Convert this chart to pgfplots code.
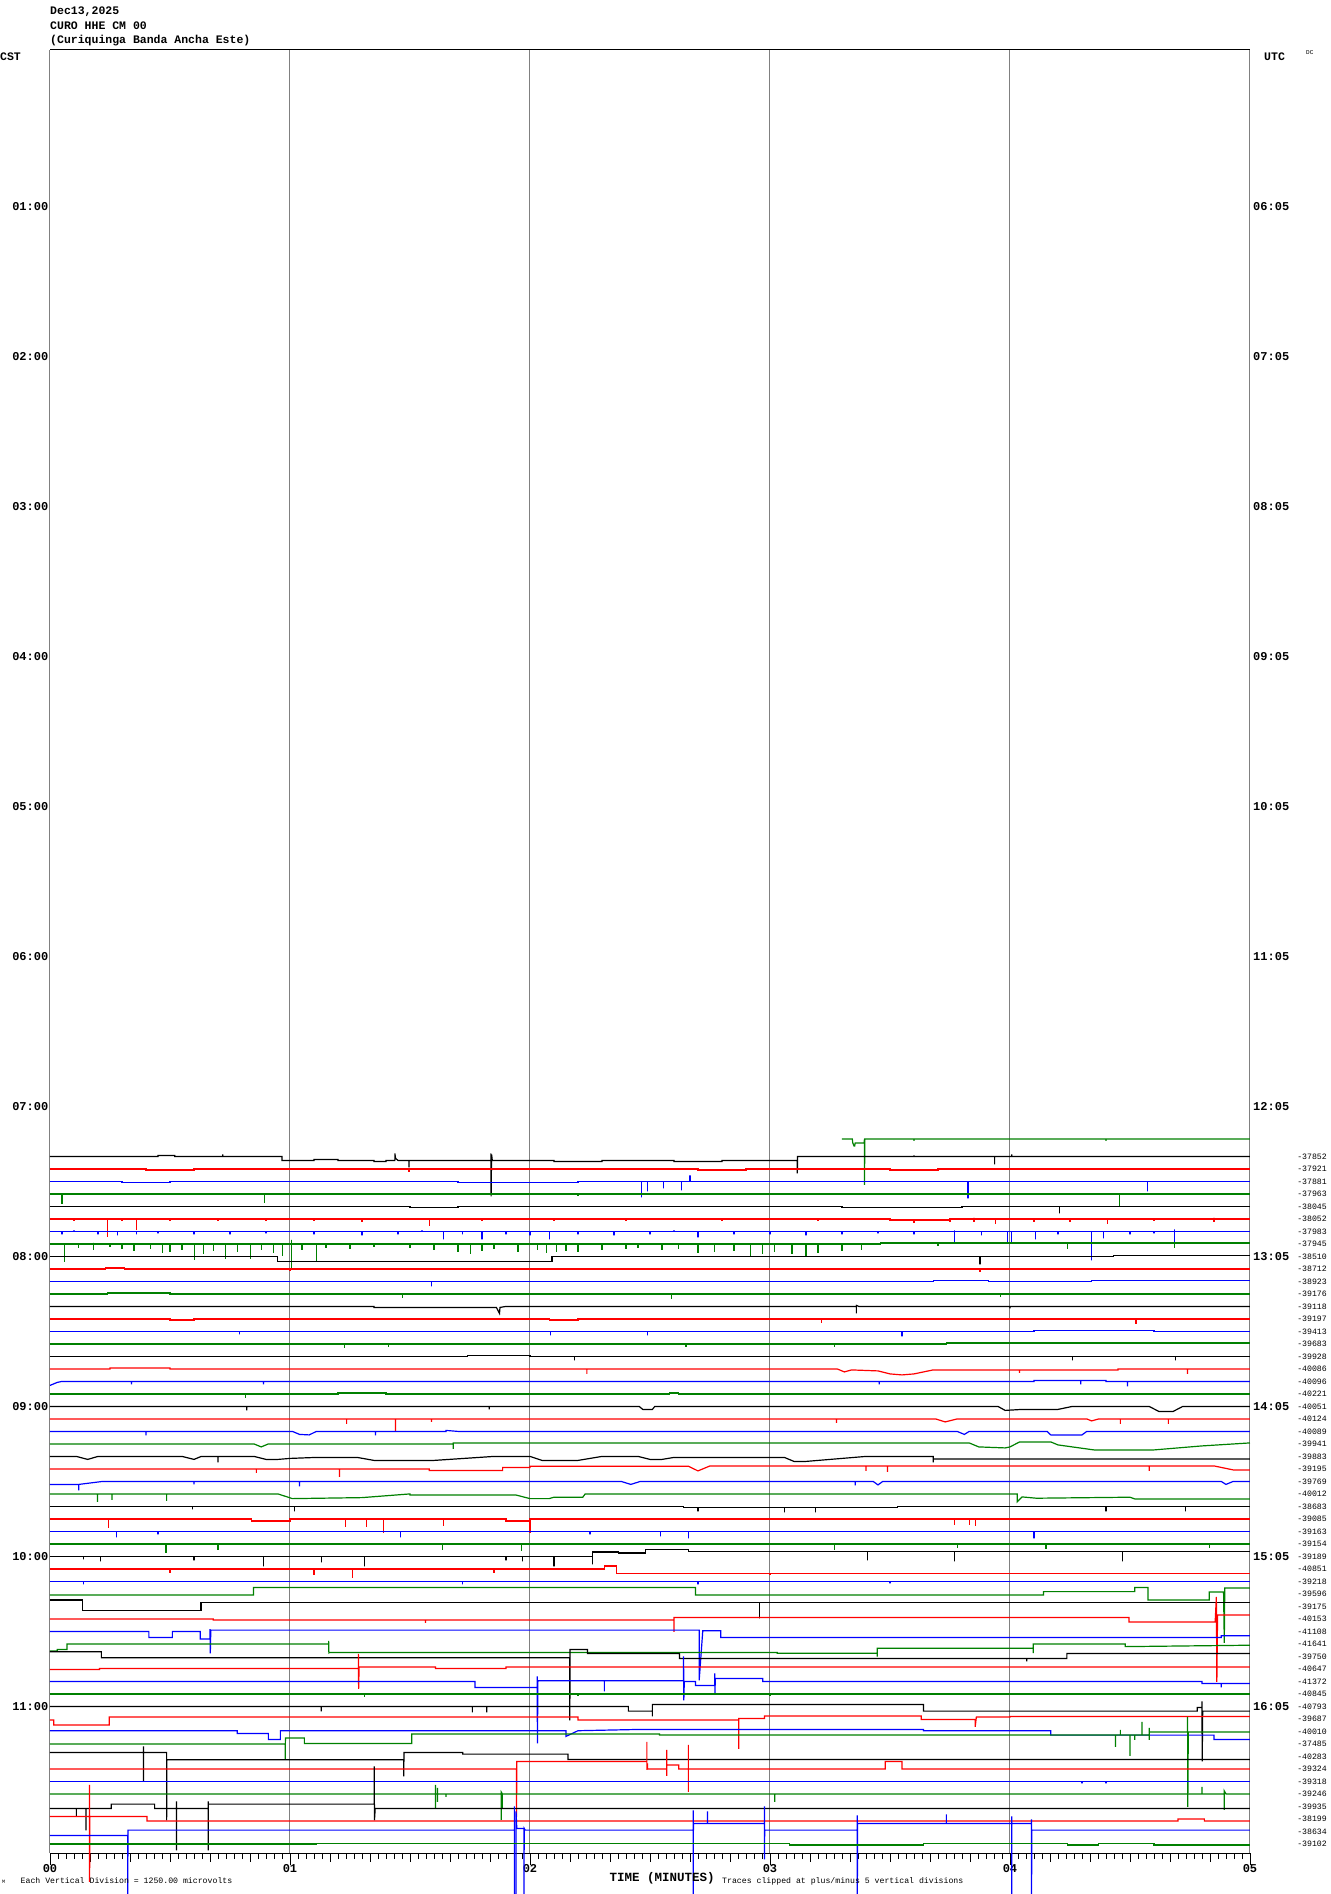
\documentclass[border=0pt]{standalone}
\usepackage{fontspec}
\setmonofont{Liberation Mono}
\usepackage{pgfplots}
\pgfplotsset{compat=1.18}
\definecolor{tg}{RGB}{0,128,0}
\definecolor{trd}{RGB}{255,0,0}
\definecolor{tbl}{RGB}{0,0,255}
\definecolor{gl}{RGB}{128,128,128}
\newcommand{\trc}[3]{\addplot[#1,line width=1.2pt] table[row sep=\\,header=false,x index=0,y expr={\thisrowno{1}+56.4+12.5*#2}]{#3};}
\newcommand{\hdr}{\ttfamily\bfseries\fontsize{11.5}{13}\selectfont}
\newcommand{\hr}{\ttfamily\bfseries\fontsize{12}{13}\selectfont}
\newcommand{\sm}{\ttfamily\fontsize{8.2}{9}\selectfont}
\begin{document}
\begin{tikzpicture}
\useasboundingbox (0,0) rectangle (1330pt,1894pt);
\begin{axis}[at={(50pt,41pt)},anchor=south west,width=1200pt,height=1803pt,scale only axis,
 xmin=0,xmax=5,ymin=50,ymax=1853,y dir=reverse,clip=false,
 axis x line=bottom, axis y line=none, axis line style={-,black,line width=1pt},
 xtick={0,1,2,3,4,5}, xticklabels={00,01,02,03,04,05},
 minor x tick num=29, tick align=outside, major tick length=12pt, minor tick length=6pt,
 tick style={black,line width=0.8pt},
 extra x ticks={0.16667,0.33333,0.5,0.66667,0.83333,1.16667,1.33333,1.5,1.66667,1.83333,2.16667,2.33333,2.5,2.66667,2.83333,3.16667,3.33333,3.5,3.66667,3.83333,4.16667,4.33333,4.5,4.66667,4.83333},
 extra x tick labels={}, extra x tick style={major tick length=9pt, grid=none},
 xmajorgrids, major grid style={gl,line width=1pt},
 xticklabel style={font=\hr, inner sep=0pt, yshift=1pt},
 ytick=\empty]
\trc{tg}{87}{3.300 -5 \\ 3.343 -5 \\ 3.345 -1 \\ 3.35 2 \\ 3.353 2 \\ 3.355 -1 \\ 3.392 -1 \\ 3.394 -5 \\ 3.394 41 \\ 3.395 -5 \\ 3.6 -5 \\ 3.6 -3 \\ 3.6 -5 \\ 4.4 -5 \\ 4.4 -3 \\ 4.4 -5 \\ 5 -5 \\}
\trc{black}{88}{0 0 \\ 0.45 0 \\ 0.45 -1 \\ 0.52 -1 \\ 0.52 0 \\ 0.72 0 \\ 0.72 -2 \\ 0.72 0 \\ 0.967 0 \\ 0.967 4 \\ 1.1 4 \\ 1.1 3 \\ 1.2 3 \\ 1.2 4 \\ 1.35 4 \\ 1.35 5 \\ 1.40 5 \\ 1.40 4 \\ 1.437 4 \\ 1.437 -3 \\ 1.44 2 \\ 1.45 4 \\ 1.496 4 \\ 1.496 11 \\ 1.496 4 \\ 1.837 4 \\ 1.837 -3 \\ 1.838 40 \\ 1.84 -2 \\ 1.843 4 \\ 2.1 4 \\ 2.1 5 \\ 2.3 5 \\ 2.3 4 \\ 2.6 4 \\ 2.6 5 \\ 2.8 5 \\ 2.8 4 \\ 3.114 4 \\ 3.114 17 \\ 3.115 0 \\ 3.6 0 \\ 3.6 -1 \\ 3.6 0 \\ 3.936 0 \\ 3.936 8 \\ 3.936 0 \\ 4.007 0 \\ 4.007 -2 \\ 4.007 0 \\ 5 0 \\}
\trc{trd}{89}{0 0 \\ 0.4 0 \\ 0.4 1 \\ 0.6 1 \\ 0.6 0 \\ 1.496 0 \\ 1.496 3 \\ 1.496 0 \\ 2.7 0 \\ 2.7 1 \\ 2.9 1 \\ 2.9 0 \\ 3.5 0 \\ 3.5 1 \\ 3.7 1 \\ 3.7 0 \\ 5 0 \\}
\trc{tbl}{90}{0 0 \\ 0.3 0 \\ 0.3 1 \\ 0.5 1 \\ 0.5 0 \\ 1.7 0 \\ 1.7 1 \\ 2.2 1 \\ 2.2 0 \\ 2.466 0 \\ 2.466 16 \\ 2.466 0 \\ 2.49 0 \\ 2.49 10 \\ 2.49 0 \\ 2.557 0 \\ 2.557 7 \\ 2.557 0 \\ 2.631 0 \\ 2.631 9 \\ 2.631 0 \\ 2.667 0 \\ 2.667 -6 \\ 2.667 0 \\ 3.825 0 \\ 3.825 17 \\ 3.825 0 \\ 4.572 0 \\ 4.572 10 \\ 4.572 0 \\ 5 0 \\}
\trc{tg}{91}{0 0 \\ 0.05 0 \\ 0.05 10 \\ 0.05 0 \\ 0.893 0 \\ 0.893 9 \\ 0.893 0 \\ 2.2 0 \\ 2.2 2 \\ 2.2 0 \\ 4.455 0 \\ 4.455 12 \\ 4.455 0 \\ 5 0 \\}
\trc{black}{92}{0 0 \\ 1.5 0 \\ 1.5 1 \\ 1.7 1 \\ 1.7 0 \\ 3.3 0 \\ 3.3 1 \\ 3.8 1 \\ 3.8 0 \\ 4.205 0 \\ 4.205 7 \\ 4.205 0 \\ 5 0 \\}
\trc{trd}{93}{0 0 \\ 0.1 0 \\ 0.1 2 \\ 0.1 0 \\ 0.239 0 \\ 0.239 18 \\ 0.239 0 \\ 0.3 0 \\ 0.3 2 \\ 0.3 0 \\ 0.362 0 \\ 0.362 11 \\ 0.362 0 \\ 0.5 0 \\ 0.5 2 \\ 0.5 0 \\ 0.7 0 \\ 0.7 2 \\ 0.7 0 \\ 0.9 0 \\ 0.9 2 \\ 0.9 0 \\ 1.1 0 \\ 1.1 2 \\ 1.1 0 \\ 1.3 0 \\ 1.3 3 \\ 1.3 0 \\ 1.58 0 \\ 1.58 7 \\ 1.58 0 \\ 1.8 0 \\ 1.8 2 \\ 1.8 0 \\ 2.1 0 \\ 2.1 2 \\ 2.1 0 \\ 2.4 0 \\ 2.4 2 \\ 2.4 0 \\ 2.8 0 \\ 2.8 2 \\ 2.8 0 \\ 3.2 0 \\ 3.2 2 \\ 3.2 0 \\ 3.5 0 \\ 3.5 1 \\ 3.6 1 \\ 3.6 4 \\ 3.6 1 \\ 3.75 1 \\ 3.75 3 \\ 3.75 0 \\ 3.85 0 \\ 3.85 3 \\ 3.85 -1 \\ 3.85 0 \\ 3.94 0 \\ 3.94 5 \\ 3.94 0 \\ 4.1 0 \\ 4.1 3 \\ 4.1 0 \\ 4.25 0 \\ 4.25 3 \\ 4.25 0 \\ 4.407 0 \\ 4.407 5 \\ 4.407 0 \\ 4.6 0 \\ 4.6 2 \\ 4.6 0 \\ 4.85 0 \\ 4.85 3 \\ 4.85 -1 \\ 4.85 0 \\ 5 0 \\}
\trc{tbl}{94}{0 0 \\ 0.05 0 \\ 0.05 3 \\ 0.05 0 \\ 0.1 0 \\ 0.1 -1 \\ 0.1 0 \\ 0.2 0 \\ 0.2 3 \\ 0.2 0 \\ 0.28 0 \\ 0.28 4 \\ 0.28 0 \\ 0.36 0 \\ 0.36 3 \\ 0.36 0 \\ 0.45 0 \\ 0.45 2 \\ 0.45 0 \\ 0.6 0 \\ 0.6 3 \\ 0.6 0 \\ 0.75 0 \\ 0.75 3 \\ 0.75 0 \\ 0.9 0 \\ 0.9 2 \\ 0.9 0 \\ 1.1 0 \\ 1.1 3 \\ 1.1 0 \\ 1.3 0 \\ 1.3 4 \\ 1.3 0 \\ 1.45 0 \\ 1.45 3 \\ 1.45 0 \\ 1.55 0 \\ 1.55 -1 \\ 1.55 0 \\ 1.64 0 \\ 1.64 8 \\ 1.64 0 \\ 1.72 0 \\ 1.72 3 \\ 1.72 0 \\ 1.8 0 \\ 1.8 8 \\ 1.8 0 \\ 1.9 0 \\ 1.9 3 \\ 1.9 0 \\ 2.0 0 \\ 2.0 4 \\ 2.0 0 \\ 2.08 0 \\ 2.08 8 \\ 2.08 0 \\ 2.2 0 \\ 2.2 3 \\ 2.2 0 \\ 2.35 0 \\ 2.35 4 \\ 2.35 0 \\ 2.5 0 \\ 2.5 3 \\ 2.5 0 \\ 2.6 0 \\ 2.6 -1 \\ 2.6 0 \\ 2.70 0 \\ 2.70 6 \\ 2.70 0 \\ 2.85 0 \\ 2.85 3 \\ 2.85 0 \\ 3.0 0 \\ 3.0 3 \\ 3.0 0 \\ 3.15 0 \\ 3.15 4 \\ 3.15 0 \\ 3.3 0 \\ 3.3 3 \\ 3.3 0 \\ 3.45 0 \\ 3.45 2 \\ 3.45 0 \\ 3.6 0 \\ 3.6 3 \\ 3.6 0 \\ 3.77 0 \\ 3.77 11 \\ 3.77 -1 \\ 3.77 0 \\ 3.88 0 \\ 3.88 4 \\ 3.88 0 \\ 3.99 0 \\ 3.99 11 \\ 3.99 0 \\ 4.006 0 \\ 4.006 11 \\ 4.006 0 \\ 4.105 0 \\ 4.105 8 \\ 4.105 0 \\ 4.2 0 \\ 4.2 3 \\ 4.2 0 \\ 4.34 0 \\ 4.34 29 \\ 4.34 0 \\ 4.39 0 \\ 4.39 7 \\ 4.39 0 \\ 4.5 0 \\ 4.5 3 \\ 4.5 0 \\ 4.6 0 \\ 4.6 2 \\ 4.6 0 \\ 4.685 0 \\ 4.685 11 \\ 4.685 -2 \\ 4.685 0 \\ 5 0 \\}
\trc{tg}{95}{0 0 \\ 0.061 0 \\ 0.061 18 \\ 0.061 0 \\ 0.12 0 \\ 0.12 4 \\ 0.12 0 \\ 0.18 0 \\ 0.18 6 \\ 0.18 -1 \\ 0.18 0 \\ 0.25 0 \\ 0.25 3 \\ 0.25 0 \\ 0.3 0 \\ 0.3 5 \\ 0.3 0 \\ 0.35 0 \\ 0.35 7 \\ 0.35 0 \\ 0.42 0 \\ 0.42 5 \\ 0.42 0 \\ 0.47 0 \\ 0.47 9 \\ 0.47 0 \\ 0.5 0 \\ 0.5 8 \\ 0.5 0 \\ 0.55 0 \\ 0.55 6 \\ 0.55 0 \\ 0.601 0 \\ 0.601 16 \\ 0.601 0 \\ 0.64 0 \\ 0.64 10 \\ 0.64 0 \\ 0.68 0 \\ 0.68 7 \\ 0.68 0 \\ 0.73 0 \\ 0.73 15 \\ 0.73 0 \\ 0.78 0 \\ 0.78 8 \\ 0.78 0 \\ 0.835 0 \\ 0.835 15 \\ 0.835 0 \\ 0.88 0 \\ 0.88 6 \\ 0.88 0 \\ 0.93 0 \\ 0.93 9 \\ 0.93 0 \\ 0.97 0 \\ 0.97 12 \\ 0.97 0 \\ 1.005 0 \\ 1.005 25 \\ 1.005 -4 \\ 1.005 0 \\ 1.05 0 \\ 1.05 6 \\ 1.05 0 \\ 1.109 0 \\ 1.109 17 \\ 1.109 0 \\ 1.15 0 \\ 1.15 4 \\ 1.15 0 \\ 1.25 0 \\ 1.25 5 \\ 1.25 0 \\ 1.35 0 \\ 1.35 3 \\ 1.35 0 \\ 1.5 0 \\ 1.5 4 \\ 1.5 0 \\ 1.6 0 \\ 1.6 6 \\ 1.6 0 \\ 1.7 0 \\ 1.7 8 \\ 1.7 0 \\ 1.751 0 \\ 1.751 10 \\ 1.751 0 \\ 1.8 0 \\ 1.8 7 \\ 1.8 0 \\ 1.85 0 \\ 1.85 5 \\ 1.85 0 \\ 1.95 0 \\ 1.95 8 \\ 1.95 0 \\ 2.03 0 \\ 2.03 6 \\ 2.03 0 \\ 2.07 0 \\ 2.07 9 \\ 2.07 0 \\ 2.109 0 \\ 2.109 8 \\ 2.109 0 \\ 2.15 0 \\ 2.15 7 \\ 2.15 0 \\ 2.2 0 \\ 2.2 8 \\ 2.2 0 \\ 2.3 0 \\ 2.3 6 \\ 2.3 0 \\ 2.4 0 \\ 2.4 5 \\ 2.4 0 \\ 2.45 0 \\ 2.45 4 \\ 2.45 0 \\ 2.55 0 \\ 2.55 6 \\ 2.55 0 \\ 2.62 0 \\ 2.62 5 \\ 2.62 0 \\ 2.7 0 \\ 2.7 9 \\ 2.7 0 \\ 2.768 0 \\ 2.768 8 \\ 2.768 0 \\ 2.85 0 \\ 2.85 7 \\ 2.85 0 \\ 2.92 0 \\ 2.92 12 \\ 2.92 0 \\ 2.97 0 \\ 2.97 10 \\ 2.97 0 \\ 3.02 0 \\ 3.02 8 \\ 3.02 0 \\ 3.092 0 \\ 3.092 10 \\ 3.092 0 \\ 3.15 0 \\ 3.15 12 \\ 3.15 0 \\ 3.2 0 \\ 3.2 9 \\ 3.2 0 \\ 3.3 0 \\ 3.3 7 \\ 3.3 0 \\ 3.38 0 \\ 3.38 6 \\ 3.38 0 \\ 3.46 0 \\ 3.46 -1 \\ 3.7 -1 \\ 3.7 2 \\ 3.7 -1 \\ 4.24 -1 \\ 4.24 5 \\ 4.24 -1 \\ 4.685 -1 \\ 4.685 4 \\ 4.685 -1 \\ 5 -1 \\}
\trc{black}{96}{0 0 \\ 0.947 0 \\ 0.947 5 \\ 2.092 5 \\ 2.092 0 \\ 3.875 0 \\ 3.875 8 \\ 3.875 0 \\ 4.43 0 \\ 4.43 -1 \\ 5 -1 \\}
\trc{trd}{97}{0 0 \\ 0.23 0 \\ 0.23 -1 \\ 0.31 -1 \\ 0.31 0 \\ 1.0 0 \\ 1.0 2 \\ 1.0 0 \\ 3.875 0 \\ 3.875 3 \\ 3.875 0 \\ 5 0 \\}
\trc{tbl}{98}{0 0 \\ 1.59 0 \\ 1.59 5 \\ 1.59 0 \\ 3.68 0 \\ 3.68 -1 \\ 3.91 -1 \\ 3.91 0 \\ 4.34 0 \\ 4.34 -1 \\ 5 -1 \\}
\trc{tg}{99}{0 0 \\ 0.24 0 \\ 0.24 -1 \\ 0.5 -1 \\ 0.5 0 \\ 1.47 0 \\ 1.47 4 \\ 1.47 0 \\ 2.59 0 \\ 2.59 5 \\ 2.59 0 \\ 3.96 0 \\ 3.96 3 \\ 3.96 0 \\ 5 0 \\}
\trc{black}{100}{0 0 \\ 1.35 0 \\ 1.35 1 \\ 1.86 1 \\ 1.873 7 \\ 1.875 1 \\ 1.9 0 \\ 3.36 0 \\ 3.36 7 \\ 3.36 -1 \\ 3.37 0 \\ 4.0 0 \\ 4.0 2 \\ 4.0 0 \\ 5 0 \\}
\trc{trd}{101}{0 0 \\ 0.5 0 \\ 0.5 1 \\ 0.6 1 \\ 0.6 0 \\ 2.08 0 \\ 2.08 1 \\ 2.2 1 \\ 2.2 0 \\ 3.216 0 \\ 3.216 4 \\ 3.216 0 \\ 4.525 0 \\ 4.525 5 \\ 4.525 0 \\ 5 0 \\}
\trc{tbl}{102}{0 0 \\ 0.79 0 \\ 0.79 3 \\ 0.79 0 \\ 2.084 0 \\ 2.084 4 \\ 2.084 0 \\ 2.49 0 \\ 2.49 4 \\ 2.49 0 \\ 3.55 0 \\ 3.55 5 \\ 3.55 0 \\ 4.1 0 \\ 4.1 -1 \\ 4.6 -1 \\ 4.6 0 \\ 5 0 \\}
\trc{tg}{103}{0 0 \\ 0.2 0 \\ 0.2 1 \\ 0.2 0 \\ 1.227 0 \\ 1.227 4 \\ 1.227 0 \\ 1.41 0 \\ 1.41 3 \\ 1.41 0 \\ 2.65 0 \\ 2.65 3 \\ 2.65 0 \\ 3.27 0 \\ 3.27 3 \\ 3.27 0 \\ 3.735 0 \\ 3.735 -1 \\ 5 -1 \\}
\trc{black}{104}{0 0 \\ 1.74 0 \\ 1.74 -1 \\ 2.0 -1 \\ 2.0 0 \\ 2.186 0 \\ 2.186 4 \\ 2.186 0 \\ 4.26 0 \\ 4.26 4 \\ 4.26 0 \\ 4.69 0 \\ 4.69 4 \\ 4.69 0 \\ 5 0 \\}
\trc{trd}{105}{0 0 \\ 0.25 0 \\ 0.25 -1 \\ 0.5 -1 \\ 0.5 0 \\ 2.237 0 \\ 2.237 5 \\ 2.237 0 \\ 3.28 0 \\ 3.31 3 \\ 3.34 1 \\ 3.45 2 \\ 3.5 5 \\ 3.55 6 \\ 3.60 5 \\ 3.64 3 \\ 3.68 1 \\ 4.04 1 \\ 4.04 4 \\ 4.04 1 \\ 4.45 1 \\ 4.45 0 \\ 4.74 0 \\ 4.74 5 \\ 4.74 0 \\ 5 0 \\}
\trc{tbl}{106}{0 4 \\ 0.03 1 \\ 0.05 0 \\ 0.34 0 \\ 0.34 3 \\ 0.34 0 \\ 0.89 0 \\ 0.89 3 \\ 0.89 0 \\ 3.455 0 \\ 3.455 3 \\ 3.455 0 \\ 4.1 0 \\ 4.1 -1 \\ 4.295 -1 \\ 4.295 3 \\ 4.295 -1 \\ 4.4 -1 \\ 4.4 0 \\ 4.49 0 \\ 4.49 5 \\ 4.49 0 \\ 5 0 \\}
\trc{tg}{107}{0 0 \\ 0.815 0 \\ 0.815 4 \\ 0.815 0 \\ 1.2 0 \\ 1.2 -1 \\ 1.4 -1 \\ 1.4 0 \\ 2.58 0 \\ 2.58 -1 \\ 2.62 -1 \\ 2.62 0 \\ 5 0 \\}
\trc{black}{108}{0 0 \\ 0.82 0 \\ 0.82 4 \\ 0.82 0 \\ 1.83 0 \\ 1.83 3 \\ 1.83 0 \\ 2.455 0 \\ 2.47 3 \\ 2.51 3 \\ 2.52 0 \\ 3.95 0 \\ 3.98 4 \\ 4.05 3 \\ 4.2 3 \\ 4.26 0 \\ 4.58 0 \\ 4.62 5 \\ 4.68 5 \\ 4.72 0 \\ 5 0 \\}
\trc{trd}{109}{0 0 \\ 1.236 0 \\ 1.236 5 \\ 1.236 0 \\ 1.44 0 \\ 1.44 13 \\ 1.44 0 \\ 1.59 0 \\ 1.59 3 \\ 1.59 0 \\ 3.277 0 \\ 3.277 4 \\ 3.277 0 \\ 3.69 0 \\ 3.73 3 \\ 3.78 0 \\ 4.32 0 \\ 4.34 2 \\ 4.37 0 \\ 4.46 0 \\ 4.46 5 \\ 4.46 0 \\ 4.66 0 \\ 4.66 5 \\ 4.66 0 \\ 5 0 \\}
\trc{tbl}{110}{0 0 \\ 0.40 0 \\ 0.40 4 \\ 0.40 0 \\ 1.01 0 \\ 1.04 3 \\ 1.08 3.5 \\ 1.11 0 \\ 1.356 0 \\ 1.356 4 \\ 1.356 0 \\ 1.65 0 \\ 1.65 -1 \\ 1.70 0 \\ 3.78 0 \\ 3.81 3 \\ 3.83 0 \\ 4.155 0 \\ 4.17 3.5 \\ 4.30 3.5 \\ 4.32 0 \\ 5 0 \\}
\trc{tg}{111}{0 0 \\ 0.85 0 \\ 0.88 3 \\ 0.91 0 \\ 1.68 0 \\ 1.68 5 \\ 1.68 -1 \\ 3.83 -1 \\ 3.87 3 \\ 3.98 4 \\ 4.0 3 \\ 4.04 -2 \\ 4.17 -2 \\ 4.2 1 \\ 4.35 6 \\ 4.6 6 \\ 4.8 2 \\ 5 -1 \\}
\trc{black}{112}{0 0 \\ 0.11 0 \\ 0.157 3 \\ 0.2 0 \\ 0.55 0 \\ 0.6 3 \\ 0.63 0 \\ 0.70 0 \\ 0.70 6 \\ 0.70 0 \\ 0.85 0 \\ 0.9 3 \\ 0.95 3 \\ 1.0 2 \\ 1.11 1 \\ 1.28 1 \\ 1.35 4 \\ 1.6 4 \\ 1.85 0 \\ 2.0 0 \\ 2.05 4 \\ 2.2 4 \\ 2.3 0 \\ 2.45 0 \\ 2.5 3 \\ 2.55 3 \\ 2.6 1 \\ 3.06 1 \\ 3.1 5 \\ 3.15 5 \\ 3.3 2 \\ 3.4 0 \\ 3.68 0 \\ 3.68 6 \\ 3.68 2.5 \\ 5 2.5 \\}
\trc{trd}{113}{0 0 \\ 0.86 0 \\ 0.86 4 \\ 0.86 0 \\ 1.206 0 \\ 1.206 8 \\ 1.206 0 \\ 1.58 0 \\ 1.58 1.5 \\ 1.886 1.5 \\ 1.886 -1.5 \\ 2.0 -1.5 \\ 2.0 -2.7 \\ 2.66 -2.7 \\ 2.7 2 \\ 2.75 -3 \\ 3.40 -3 \\ 3.40 2 \\ 3.40 -3 \\ 3.49 -3 \\ 3.49 3 \\ 3.49 -3 \\ 4.58 -3 \\ 4.58 2 \\ 4.58 -3 \\ 4.85 -3 \\ 4.93 1 \\ 5 1 \\}
\trc{tbl}{114}{0 3 \\ 0.12 3 \\ 0.12 9 \\ 0.12 3 \\ 0.22 0 \\ 0.6 0 \\ 0.6 3 \\ 0.6 0 \\ 1.04 0 \\ 1.04 5 \\ 1.04 0 \\ 2.38 0 \\ 2.42 3 \\ 2.46 0 \\ 3.355 0 \\ 3.355 4 \\ 3.355 0 \\ 3.43 0 \\ 3.45 3.5 \\ 3.47 0 \\ 4.88 0 \\ 4.9 3 \\ 4.93 0 \\ 5 0 \\}
\trc{tg}{115}{0 0 \\ 0.198 0 \\ 0.198 8 \\ 0.198 0 \\ 0.258 0 \\ 0.258 6 \\ 0.258 0 \\ 0.486 0 \\ 0.486 7 \\ 0.486 0 \\ 0.95 0 \\ 1.01 4.7 \\ 1.3 3.7 \\ 1.5 0 \\ 1.5 1 \\ 1.94 1 \\ 2.0 4.7 \\ 2.08 4.7 \\ 2.1 3.3 \\ 2.22 3.3 \\ 2.23 0 \\ 4.03 0 \\ 4.03 8 \\ 4.05 3 \\ 4.11 4.3 \\ 4.5 3.3 \\ 4.52 5 \\ 5 5 \\}
\trc{black}{116}{0 0 \\ 0.593 0 \\ 0.593 3 \\ 0.593 0 \\ 1.02 0 \\ 1.02 5 \\ 1.02 0 \\ 2.64 0 \\ 2.64 1 \\ 2.70 1 \\ 2.70 5 \\ 2.70 1 \\ 3.06 1 \\ 3.06 6 \\ 3.06 1 \\ 3.19 1 \\ 3.19 6 \\ 3.19 1 \\ 3.53 1 \\ 3.53 0 \\ 4.40 0 \\ 4.40 5 \\ 4.40 0 \\ 4.73 0 \\ 4.73 5 \\ 4.73 0 \\ 5 0 \\}
\trc{trd}{117}{0 0 \\ 0.244 0 \\ 0.244 9 \\ 0.244 0 \\ 0.84 0 \\ 0.84 2 \\ 1.0 2 \\ 1.0 0 \\ 1.23 0 \\ 1.23 8 \\ 1.23 0 \\ 1.32 0 \\ 1.32 8 \\ 1.32 0 \\ 1.39 0 \\ 1.39 14 \\ 1.39 0 \\ 1.64 0 \\ 1.64 7 \\ 1.64 0 \\ 1.9 0 \\ 1.9 2 \\ 2.0 2 \\ 2.0 14 \\ 2.0 0 \\ 3.77 0 \\ 3.77 6 \\ 3.77 0 \\ 3.83 0 \\ 3.83 6 \\ 3.83 0 \\ 3.855 0 \\ 3.855 7 \\ 3.855 0 \\ 5 0 \\}
\trc{tbl}{118}{0 0 \\ 0.277 0 \\ 0.277 6 \\ 0.277 0 \\ 0.45 0 \\ 0.45 3 \\ 0.45 0 \\ 1.46 0 \\ 1.46 6 \\ 1.46 0 \\ 2.25 0 \\ 2.25 3 \\ 2.25 0 \\ 2.545 0 \\ 2.545 5 \\ 2.545 0 \\ 2.66 0 \\ 2.66 7 \\ 2.66 0 \\ 4.10 0 \\ 4.10 7 \\ 4.10 0 \\ 5 0 \\}
\trc{tg}{119}{0 0 \\ 0.483 0 \\ 0.483 9 \\ 0.483 0 \\ 0.70 0 \\ 0.70 6 \\ 0.70 0 \\ 1.636 0 \\ 1.636 6 \\ 1.636 0 \\ 1.965 0 \\ 1.965 7 \\ 1.965 0 \\ 3.27 0 \\ 3.27 6 \\ 3.27 0 \\ 3.78 0 \\ 3.78 4 \\ 3.78 0 \\ 4.15 0 \\ 4.15 5 \\ 4.15 0 \\ 4.83 0 \\ 4.83 4 \\ 4.83 0 \\ 5 0 \\}
\trc{black}{120}{0 0 \\ 0.14 0 \\ 0.14 3 \\ 0.14 0 \\ 0.21 0 \\ 0.21 5 \\ 0.21 0 \\ 0.60 0 \\ 0.60 4 \\ 0.60 0 \\ 0.89 0 \\ 0.89 10 \\ 0.89 0 \\ 1.13 0 \\ 1.13 6 \\ 1.13 0 \\ 1.31 0 \\ 1.31 10 \\ 1.31 0 \\ 1.9 0 \\ 1.9 4 \\ 1.9 0 \\ 1.97 0 \\ 1.97 5 \\ 1.97 0 \\ 2.10 0 \\ 2.10 10 \\ 2.10 0 \\ 2.26 0 \\ 2.26 8 \\ 2.26 -4.5 \\ 2.37 -4.5 \\ 2.37 -3.5 \\ 2.48 -3.5 \\ 2.48 -7 \\ 2.66 -7 \\ 2.66 -5 \\ 3.405 -5 \\ 3.405 4 \\ 3.405 -5 \\ 3.77 -5 \\ 3.77 5 \\ 3.77 -5 \\ 4.47 -5 \\ 4.47 5 \\ 4.47 -5 \\ 5 -5 \\}
\trc{trd}{121}{0 0 \\ 0.50 0 \\ 0.50 4 \\ 0.50 0 \\ 1.10 0 \\ 1.10 6 \\ 1.10 0 \\ 1.26 0 \\ 1.26 9 \\ 1.26 0 \\ 1.85 0 \\ 1.85 4 \\ 1.85 0 \\ 2.31 0 \\ 2.31 -3 \\ 2.36 -3 \\ 2.36 4.3 \\ 3.0 4.3 \\ 3.0 6 \\ 3.0 4.3 \\ 5 4.3 \\}
\trc{tbl}{122}{0 0 \\ 0.14 0 \\ 0.14 3 \\ 0.14 0 \\ 1.72 0 \\ 1.72 3 \\ 1.72 0 \\ 2.70 0 \\ 2.70 3 \\ 2.70 0 \\ 3.5 0 \\ 3.5 2 \\ 3.5 0 \\ 5 0 \\}
\trc{tg}{123}{0 1 \\ 0.848 1 \\ 0.848 -6.5 \\ 2.69 -6.5 \\ 2.69 1 \\ 4.14 1 \\ 4.14 -2.3 \\ 4.52 -2.3 \\ 4.52 -6.5 \\ 4.575 -6.5 \\ 4.575 6 \\ 4.83 6 \\ 4.83 -2 \\ 4.89 -2 \\ 4.893 49 \\ 4.895 -6 \\ 5 -6 \\}
\trc{black}{124}{0 -6.4 \\ 0.137 -6.4 \\ 0.137 4.3 \\ 0.629 4.3 \\ 0.629 -4 \\ 2.957 -4 \\ 2.957 12 \\ 2.957 -4 \\ 5 -4 \\}
\trc{trd}{125}{0 0 \\ 0.68 0 \\ 0.68 1 \\ 1.565 1 \\ 1.565 4 \\ 1.565 1 \\ 2.6 1 \\ 2.6 13 \\ 2.6 -1.5 \\ 4.496 -1.5 \\ 4.496 3 \\ 4.855 3 \\ 4.86 -22 \\ 4.862 63 \\ 4.865 -4 \\ 5 -4 \\}
\trc{tbl}{126}{0 0 \\ 0.412 0 \\ 0.412 6 \\ 0.51 6 \\ 0.51 0 \\ 0.626 0 \\ 0.626 7.6 \\ 0.667 7.6 \\ 0.667 -2.3 \\ 0.668 22 \\ 0.67 -1.3 \\ 2.705 -1.3 \\ 2.705 49 \\ 2.72 -0.7 \\ 2.795 -0.7 \\ 2.795 6 \\ 4.88 6 \\ 4.88 4.3 \\ 5 4.3 \\}
\trc{tg}{127}{0 7 \\ 0.03 7 \\ 0.03 5.5 \\ 0.071 5.5 \\ 0.071 0 \\ 1.161 0 \\ 1.161 -3 \\ 1.162 9 \\ 1.165 8.5 \\ 3.03 8.5 \\ 3.03 9.3 \\ 3.447 9.3 \\ 3.447 12.7 \\ 3.447 4.3 \\ 4.097 4.3 \\ 4.097 9.3 \\ 4.097 0 \\ 4.48 0 \\ 4.48 2.7 \\ 5 1.3 \\}
\trc{black}{128}{0 -4.7 \\ 0.214 -4.7 \\ 0.214 1.3 \\ 2.166 1.3 \\ 2.166 64 \\ 2.167 -7 \\ 2.24 -7 \\ 2.24 -3 \\ 2.623 -3 \\ 2.623 2 \\ 4.07 2 \\ 4.07 5 \\ 4.07 2 \\ 4.237 2 \\ 4.237 -3 \\ 5 -3 \\}
\trc{trd}{129}{0 0.5 \\ 0.206 0.5 \\ 0.206 -0.5 \\ 1.285 -0.5 \\ 1.285 -15 \\ 1.286 20 \\ 1.288 -2 \\ 1.606 -2 \\ 1.606 -0.5 \\ 1.90 -0.5 \\ 1.90 -2 \\ 5 -2 \\}
\trc{tbl}{130}{0 0 \\ 1.771 0 \\ 1.771 6 \\ 2.03 6 \\ 2.03 -5 \\ 2.031 62 \\ 2.033 -0.7 \\ 2.31 -0.7 \\ 2.31 10 \\ 2.31 -0.7 \\ 2.64 -0.7 \\ 2.64 -25 \\ 2.641 19 \\ 2.643 0 \\ 2.69 0 \\ 2.69 4 \\ 2.77 4 \\ 2.77 -8 \\ 2.771 12 \\ 2.772 -3 \\ 2.97 -3 \\ 2.97 0 \\ 4.80 0 \\ 4.80 2 \\ 4.88 2 \\ 4.88 6 \\ 4.88 2 \\ 5 2 \\}
\trc{tg}{131}{0 0 \\ 1.31 0 \\ 1.31 3 \\ 1.31 0 \\ 2.2 0 \\ 2.2 2 \\ 2.2 0 \\ 3.0 0 \\ 3.0 2 \\ 3.0 0 \\ 5 0 \\}
\trc{black}{132}{0 0 \\ 1.13 0 \\ 1.13 5 \\ 1.13 0 \\ 1.76 0 \\ 1.76 6 \\ 1.76 0 \\ 1.82 0 \\ 1.82 6 \\ 1.82 0 \\ 2.41 0 \\ 2.41 4.7 \\ 2.51 4.7 \\ 2.51 10 \\ 2.51 -2 \\ 3.64 -2 \\ 3.64 4.7 \\ 4.78 4.7 \\ 4.78 1 \\ 4.80 1 \\ 4.80 -5 \\ 4.801 55 \\ 4.803 4.7 \\ 5 4.7 \\}
\trc{trd}{133}{0 1 \\ 0.016 1 \\ 0.016 6 \\ 0.247 6 \\ 0.247 -2 \\ 2.2 -2 \\ 2.2 1 \\ 2.87 1 \\ 2.87 30 \\ 2.87 -0.5 \\ 2.977 -0.5 \\ 2.977 -3 \\ 3.63 -3 \\ 3.63 0.5 \\ 3.855 0.5 \\ 3.855 8 \\ 3.86 -2 \\ 4.0 -2 \\ 4.0 -2.5 \\ 5 -2.5 \\}
\trc{tbl}{134}{0 -0.7 \\ 0.78 -0.7 \\ 0.78 2 \\ 0.91 2 \\ 0.91 8 \\ 0.96 8 \\ 0.96 -0.7 \\ 2.15 -0.7 \\ 2.15 5 \\ 2.2 -0.7 \\ 2.46 -2 \\ 3.64 -2 \\ 3.64 -0.7 \\ 4.17 -0.7 \\ 4.17 3.7 \\ 4.85 3.7 \\ 4.85 8 \\ 5 8 \\}
\trc{tg}{135}{0 0 \\ 0.98 0 \\ 0.98 16 \\ 0.981 -6 \\ 1.06 -6 \\ 1.06 -0.5 \\ 1.507 -0.5 \\ 1.507 -10 \\ 2.54 -10 \\ 2.54 -9 \\ 4.44 -9 \\ 4.44 3 \\ 4.44 -9 \\ 4.46 -9 \\ 4.46 -14 \\ 4.46 -9 \\ 4.50 -9 \\ 4.50 12 \\ 4.50 -9 \\ 4.52 -9 \\ 4.52 -4 \\ 4.52 -9 \\ 4.55 -9 \\ 4.55 -22 \\ 4.55 -9 \\ 4.58 -9 \\ 4.58 -16 \\ 4.58 -4 \\ 4.58 -12 \\ 4.74 -12 \\ 4.74 -27 \\ 4.741 63 \\ 4.743 -12 \\ 5 -12 \\}
\trc{black}{136}{0 -4 \\ 0.39 -4 \\ 0.39 -10 \\ 0.39 25 \\ 0.39 -4 \\ 0.486 -4 \\ 0.486 64 \\ 0.487 3.3 \\ 1.474 3.3 \\ 1.474 20 \\ 1.475 -4 \\ 1.72 -4 \\ 1.72 -2.3 \\ 2.158 -2.3 \\ 2.158 3 \\ 5 3 \\}
\trc{trd}{137}{0 0 \\ 1.944 0 \\ 1.944 48 \\ 1.945 -7.5 \\ 2.487 -7.5 \\ 2.487 -27 \\ 2.487 1 \\ 2.49 -5.5 \\ 2.49 0 \\ 2.57 0 \\ 2.57 -19 \\ 2.57 7 \\ 2.57 -4 \\ 2.62 -4 \\ 2.62 0 \\ 2.66 0 \\ 2.66 -24 \\ 2.66 23 \\ 2.66 0 \\ 3.48 0 \\ 3.48 -7.5 \\ 3.55 -7.5 \\ 3.55 0 \\ 5 0 \\}
\trc{tbl}{138}{0 0 \\ 4.30 0 \\ 4.30 2 \\ 4.30 0 \\ 4.40 0 \\ 4.40 2 \\ 4.40 0 \\ 5 0 \\}
\trc{tg}{139}{0 0 \\ 1.606 0 \\ 1.606 -9 \\ 1.606 15 \\ 1.606 0 \\ 1.615 0 \\ 1.615 -6 \\ 1.615 8 \\ 1.615 0 \\ 1.65 0 \\ 1.65 3 \\ 1.65 0 \\ 1.88 0 \\ 1.88 26 \\ 1.88 -2 \\ 1.885 0 \\ 1.885 15 \\ 1.885 0 \\ 3.02 0 \\ 3.02 8 \\ 3.02 0 \\ 4.80 0 \\ 4.80 -7 \\ 4.80 0 \\ 4.893 0 \\ 4.893 16 \\ 4.893 -3 \\ 4.9 0 \\ 5 0 \\}
\trc{black}{140}{0 2 \\ 0.11 2 \\ 0.11 10 \\ 0.11 2 \\ 0.15 2 \\ 0.15 24 \\ 0.15 2 \\ 0.255 2 \\ 0.255 -2.3 \\ 0.436 -2.3 \\ 0.436 2 \\ 0.527 2 \\ 0.527 -5 \\ 0.527 44 \\ 0.527 2 \\ 0.659 2 \\ 0.659 -5 \\ 0.659 44 \\ 0.66 -2.3 \\ 1.351 -2.3 \\ 1.351 -40 \\ 1.352 14 \\ 1.355 2 \\ 5 2 \\}
\trc{trd}{141}{0 -2.5 \\ 0.165 -2.5 \\ 0.165 -34 \\ 0.165 63 \\ 0.166 -2.5 \\ 0.404 -2.5 \\ 0.404 2 \\ 4.70 2 \\ 4.70 0 \\ 4.81 0 \\ 4.81 2 \\ 5 2 \\}
\trc{tbl}{142}{0 4 \\ 0.324 4 \\ 0.324 63 \\ 0.325 -1.3 \\ 1.935 -1.3 \\ 1.935 -25 \\ 1.935 63 \\ 1.942 63 \\ 1.942 -20 \\ 1.945 -3 \\ 1.975 -3 \\ 1.975 63 \\ 1.976 -3 \\ 1.98 -1.3 \\ 2.68 -1.3 \\ 2.68 -21 \\ 2.68 63 \\ 2.681 -8 \\ 2.74 -8 \\ 2.74 -20 \\ 2.74 -8 \\ 2.977 -8 \\ 2.977 -25 \\ 2.977 28 \\ 2.978 -1.3 \\ 3.364 -1.3 \\ 3.364 -16 \\ 3.364 63 \\ 3.365 -8 \\ 3.735 -8 \\ 3.735 -17 \\ 3.735 -8 \\ 4.007 -8 \\ 4.007 -15 \\ 4.007 63 \\ 4.008 -8 \\ 4.09 -8 \\ 4.09 -12 \\ 4.09 63 \\ 4.091 -1.3 \\ 5 -1.3 \\}
\trc{tg}{143}{0 0 \\ 1.112 0 \\ 1.112 -0.7 \\ 3.08 -0.7 \\ 3.08 1 \\ 3.64 1 \\ 3.64 -0.7 \\ 4.24 -0.7 \\ 4.24 1 \\ 4.37 1 \\ 4.37 -0.7 \\ 4.6 -0.7 \\ 4.6 1 \\ 5 1 \\}
\end{axis}
\begin{scope}[x=1pt,y=-1pt,shift={(0pt,1894pt)}]
\draw[black,line width=1pt] (50,50) -- (1250,50);
\node[anchor=west,inner sep=0pt,font=\hdr] at (50,12) {Dec13,2025};
\node[anchor=west,inner sep=0pt,font=\hdr] at (50,26) {CURO HHE CM 00};
\node[anchor=west,inner sep=0pt,font=\hdr] at (50,40.5) {(Curiquinga Banda Ancha Este)};
\node[anchor=west,inner sep=0pt,font=\hdr] at (0,56.4) {CST};
\node[anchor=west,inner sep=0pt,font=\hdr] at (1264,56.4) {UTC};
\node[anchor=west,inner sep=0pt,font=\ttfamily\fontsize{6}{7}\selectfont] at (1306,53) {DC};
\foreach \h/\u [count=\i] in {01:00/06:05,02:00/07:05,03:00/08:05,04:00/09:05,05:00/10:05,06:00/11:05,07:00/12:05,08:00/13:05,09:00/14:05,10:00/15:05,11:00/16:05}{
 \node[anchor=east,inner sep=0pt,font=\hr] at (48.5,56.4+150*\i) {\h};
 \node[anchor=west,inner sep=0pt,font=\hr] at (1253,56.4+150*\i) {\u};
}
\foreach \v [count=\i from 88] in {-37852,-37921,-37881,-37963,-38045,-38052,-37983,-37945,-38510,-38712,-38923,-39176,-39118,-39197,-39413,-39683,-39928,-40086,-40096,-40221,-40051,-40124,-40089,-39941,-39883,-39195,-39769,-40012,-38683,-39085,-39163,-39154,-39189,-40851,-39218,-39596,-39175,-40153,-41108,-41641,-39750,-40647,-41372,-40845,-40793,-39687,-40010,-37485,-40283,-39324,-39318,-39246,-39935,-38199,-38634,-39102}{
 \node[anchor=east,inner sep=0pt,font=\sm] at (1327,56.4+12.5*\i) {\v};
}
\node[anchor=center,inner sep=0pt,font={\ttfamily\bfseries\fontsize{12.5}{13}\selectfont}] at (662,1878) {TIME (MINUTES)};
\node[anchor=west,inner sep=0pt,font=\sm] at (20.5,1881) {Each Vertical Division = 1250.00 microvolts};
\node[anchor=west,inner sep=0pt,font=\sm] at (722,1881) {Traces clipped at plus/minus 5 vertical divisions};
\node[anchor=west,inner sep=0pt,font=\ttfamily\fontsize{5}{6}\selectfont] at (2,1882) {M};
\end{scope}
\end{tikzpicture}
\end{document}
